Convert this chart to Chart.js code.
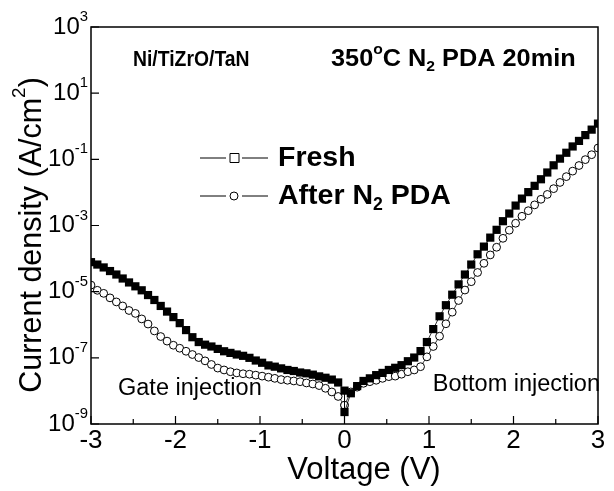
<!DOCTYPE html>
<html>
<head>
<meta charset="utf-8">
<script src="https://cdn.jsdelivr.net/npm/chart.js@4.4.0/dist/chart.umd.min.js"></script>
<style>
  html, body { margin: 0; padding: 0; background: #fff; }
  #wrap { width: 614px; height: 491px; }
</style>
</head>
<body>
<div id="wrap"><canvas id="jv" width="614" height="491"></canvas></div>
<script>
// Sweep voltages (V): gate injection sweep 0 -> -3, bottom injection sweep 0 -> +3
const voltNeg = [-3, -2.925, -2.85, -2.775, -2.7, -2.625, -2.55, -2.475, -2.4, -2.325,
  -2.25, -2.175, -2.1, -2.025, -1.95, -1.875, -1.8, -1.725, -1.65, -1.575,
  -1.5, -1.425, -1.35, -1.275, -1.2, -1.125, -1.05, -0.975, -0.9, -0.825,
  -0.75, -0.675, -0.6, -0.525, -0.45, -0.375, -0.3, -0.225, -0.15, -0.075, 0];
const voltPos = [0, 0.075, 0.15, 0.225, 0.3, 0.375, 0.45, 0.525, 0.6, 0.675,
  0.75, 0.825, 0.9, 0.975, 1.05, 1.125, 1.2, 1.275, 1.35, 1.425,
  1.5, 1.575, 1.65, 1.725, 1.8, 1.875, 1.95, 2.025, 2.1, 2.175,
  2.25, 2.325, 2.4, 2.475, 2.55, 2.625, 2.7, 2.775, 2.85, 2.925, 3];

// Current density (A/cm^2)
const freshNeg = [7.8e-5, 6.6e-5, 5.4e-5, 4.2e-5, 3.3e-5, 2.5e-5, 1.9e-5, 1.45e-5, 1.1e-5, 7.9e-6,
  5.6e-6, 3.7e-6, 2.5e-6, 1.7e-6, 1.12e-6, 6.9e-7, 4.2e-7, 3.0e-7, 2.5e-7, 2.2e-7,
  1.86e-7, 1.58e-7, 1.41e-7, 1.26e-7, 1.15e-7, 1.0e-7, 8.3e-8, 7.1e-8, 5.9e-8, 5.4e-8,
  4.8e-8, 4.3e-8, 4.0e-8, 3.6e-8, 3.4e-8, 3.1e-8, 2.75e-8, 2.5e-8, 2.2e-8, 1.8e-8, 1.02e-8];
const freshPos = [2.3e-9, 8.5e-9, 1.4e-8, 2.0e-8, 2.4e-8, 3.0e-8, 3.5e-8, 4.3e-8, 5.0e-8, 6.0e-8,
  7.9e-8, 1.02e-7, 1.6e-7, 3.0e-7, 7.4e-7, 1.8e-6, 3.9e-6, 8.1e-6, 1.66e-5, 3.3e-5,
  6.6e-5, 1.35e-4, 2.3e-4, 4.3e-4, 7.4e-4, 1.35e-3, 2.3e-3, 4.0e-3, 6.5e-3, 1.02e-2,
  1.58e-2, 2.5e-2, 4.0e-2, 6.6e-2, 0.105, 0.158, 0.245, 0.36, 0.54, 0.79, 1.2];
const pdaNeg = [1.58e-5, 1.1e-5, 8.9e-6, 6.5e-6, 4.9e-6, 3.7e-6, 2.7e-6, 2.2e-6, 1.5e-6, 1.05e-6,
  6.5e-7, 4.4e-7, 3.2e-7, 2.4e-7, 1.95e-7, 1.58e-7, 1.26e-7, 1.02e-7, 8.1e-8, 6.3e-8,
  4.9e-8, 4.3e-8, 3.8e-8, 3.5e-8, 3.3e-8, 3.2e-8, 3.0e-8, 2.8e-8, 2.6e-8, 2.4e-8,
  2.2e-8, 2.1e-8, 2.0e-8, 1.9e-8, 1.74e-8, 1.62e-8, 1.45e-8, 1.2e-8, 9.3e-9, 6.8e-9, 3.7e-9];
const pdaPos = [3.7e-9, 9.3e-9, 1.3e-8, 1.7e-8, 1.9e-8, 2.1e-8, 2.4e-8, 2.7e-8, 2.8e-8, 3.2e-8,
  3.8e-8, 4.3e-8, 5.4e-8, 1.07e-7, 2.2e-7, 4.5e-7, 1.07e-6, 2.4e-6, 5.4e-6, 1.12e-5,
  2.0e-5, 3.8e-5, 7.2e-5, 1.29e-4, 2.2e-4, 4.1e-4, 7.2e-4, 1.17e-3, 1.9e-3, 2.8e-3,
  4.2e-3, 6.2e-3, 8.7e-3, 1.3e-2, 2.0e-2, 3.0e-2, 4.4e-2, 6.5e-2, 9.8e-2, 0.138, 0.22];

// Axis ticks
const xTicks = [-3, -2, -1, 0, 1, 2, 3];
const xMinorTicks = [-2.5, -1.5, -0.5, 0.5, 1.5, 2.5];
const yExponents = [3, 1, -1, -3, -5, -7, -9];

const FONT = "'Liberation Sans', Arial, Helvetica, sans-serif";

function toPoints(xs, ys) {
  return xs.map((v, i) => ({ x: v, y: ys[i] }));
}

// draw text made of pieces: [text, 'n' | 'sup' | 'sub'], sx squeezes/stretches horizontally
function drawRich(ctx, parts, x, y, align, size, weight, sx) {
  sx = sx || 1;
  const small = size * 0.62;
  let total = 0;
  parts.forEach(p => {
    ctx.font = `${weight} ${p[1] === 'n' ? size : small}px ${FONT}`;
    total += ctx.measureText(p[0]).width;
  });
  total *= sx;
  const x0 = align === 'center' ? x - total / 2 : (align === 'right' ? x - total : x);
  ctx.save();
  ctx.translate(x0, y);
  ctx.scale(sx, 1);
  ctx.textAlign = 'left';
  ctx.textBaseline = 'middle';
  let cx = 0;
  parts.forEach(p => {
    let dy = 0;
    if (p[1] === 'sup') dy = -size * 0.42;
    if (p[1] === 'sub') dy = size * 0.32;
    ctx.font = `${weight} ${p[1] === 'n' ? size : small}px ${FONT}`;
    ctx.fillText(p[0], cx, dy);
    cx += ctx.measureText(p[0]).width;
  });
  ctx.restore();
}

const frameAndText = {
  id: 'frameAndText',
  afterDraw(chart) {
    const { ctx, chartArea: a, scales } = chart;
    const xs = scales.x, ys = scales.y;
    ctx.save();
    ctx.fillStyle = '#000';
    ctx.strokeStyle = '#000';

    // frame
    ctx.lineWidth = 1.5;
    ctx.strokeRect(a.left, a.top, a.right - a.left, a.bottom - a.top);

    // inward ticks
    ctx.lineWidth = 1.2;
    ctx.beginPath();
    xTicks.forEach(v => {
      const px = xs.getPixelForValue(v);
      ctx.moveTo(px, a.bottom); ctx.lineTo(px, a.bottom - 8);
    });
    xMinorTicks.forEach(v => {
      const px = xs.getPixelForValue(v);
      ctx.moveTo(px, a.bottom); ctx.lineTo(px, a.bottom - 5);
    });
    yExponents.forEach(e => {
      const py = ys.getPixelForValue(Math.pow(10, e));
      ctx.moveTo(a.left, py); ctx.lineTo(a.left + 8, py);
    });
    ctx.stroke();

    // tick labels
    xTicks.forEach(v => {
      drawRich(ctx, [[String(v), 'n']], xs.getPixelForValue(v), a.bottom + 17, 'center', 26, 'normal');
    });
    yExponents.forEach(e => {
      drawRich(ctx, [['10', 'n'], [String(e), 'sup']], a.left - 3, ys.getPixelForValue(Math.pow(10, e)), 'right', 24, 'normal');
    });

    // axis titles
    drawRich(ctx, [['Voltage (V)', 'n']], 364, 470, 'center', 31, 'normal');
    ctx.save();
    ctx.translate(33, 235);
    ctx.rotate(-Math.PI / 2);
    drawRich(ctx, [['Current density (A/cm', 'n'], ['2', 'sup'], [')', 'n']], 0, 0, 'center', 30.5, 'normal');
    ctx.restore();

    // annotations
    drawRich(ctx, [['Ni/TiZrO/TaN', 'n']], 133, 60, 'left', 22, 'bold', 0.88);
    drawRich(ctx, [['350', 'n'], ['o', 'sup'], ['C N', 'n'], ['2', 'sub'], [' PDA 20min', 'n']], 331, 60, 'left', 23, 'bold', 1.1);
    drawRich(ctx, [['Gate injection', 'n']], 118, 389, 'left', 23.5, 'normal');
    drawRich(ctx, [['Bottom injection', 'n']], 600, 385, 'right', 23.5, 'normal');

    // legend: line - marker - line, then label
    const legendRows = [
      { y: 158, style: 'rect', parts: [['Fresh', 'n']] },
      { y: 196, style: 'circle', parts: [['After N', 'n'], ['2', 'sub'], [' PDA', 'n']] }
    ];
    legendRows.forEach(r => {
      ctx.lineWidth = 1;
      ctx.beginPath();
      ctx.moveTo(200, r.y); ctx.lineTo(226, r.y);
      ctx.moveTo(242, r.y); ctx.lineTo(268, r.y);
      ctx.stroke();
      ctx.fillStyle = '#fff';
      ctx.beginPath();
      if (r.style === 'rect') ctx.rect(230, r.y - 4.5, 9, 9);
      else ctx.arc(234, r.y, 4, 0, Math.PI * 2);
      ctx.fill(); ctx.stroke();
      ctx.fillStyle = '#000';
      drawRich(ctx, r.parts, 278, r.y, 'left', 28.5, 'bold');
    });
    ctx.restore();
  }
};

new Chart(document.getElementById('jv'), {
  type: 'scatter',
  data: {
    datasets: [
      {
        label: 'Fresh',
        data: toPoints(voltNeg.concat(voltPos), freshNeg.concat(freshPos)),
        showLine: true,
        borderColor: '#000',
        borderWidth: 0.8,
        pointStyle: 'rect',
        pointRadius: 5.8,
        pointBackgroundColor: '#000',
        pointBorderColor: '#000',
        pointBorderWidth: 0
      },
      {
        label: 'After N2 PDA',
        data: toPoints(voltNeg.concat(voltPos), pdaNeg.concat(pdaPos)),
        showLine: true,
        borderColor: '#000',
        borderWidth: 0.8,
        pointStyle: 'circle',
        pointRadius: 3.9,
        pointBackgroundColor: '#fff',
        pointBorderColor: '#000',
        pointBorderWidth: 1
      }
    ]
  },
  options: {
    responsive: false,
    animation: false,
    devicePixelRatio: 1,
    layout: { padding: { left: 0, right: 16, top: 27, bottom: 0 } },
    plugins: { legend: { display: false }, tooltip: { enabled: false } },
    scales: {
      x: {
        type: 'linear', min: -3, max: 3,
        grid: { display: false }, border: { display: false },
        ticks: { display: false },
        afterFit(s) { s.height = 67; }
      },
      y: {
        type: 'logarithmic', min: 1e-9, max: 1e3,
        grid: { display: false }, border: { display: false },
        ticks: { display: false },
        afterFit(s) { s.width = 91; }
      }
    }
  },
  plugins: [frameAndText]
});
</script>
</body>
</html>
